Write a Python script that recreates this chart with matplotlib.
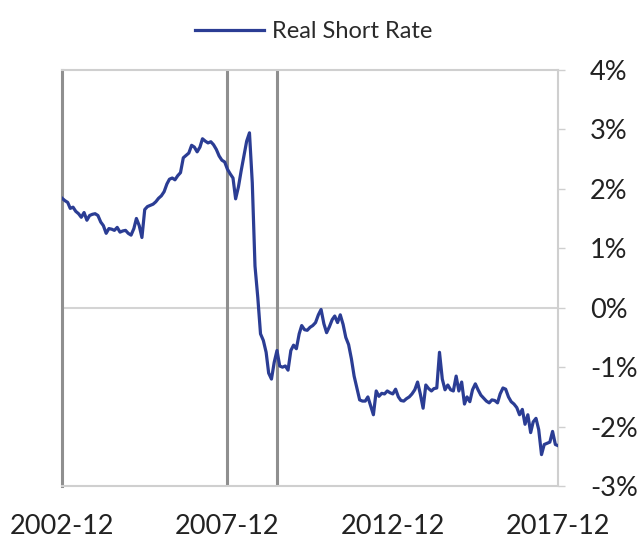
#!/usr/bin/env python
from matplotlib import pyplot as plt
import matplotlib.ticker as mticker
import pandas as pd
import numpy as np

plt.rcParams['font.family'] = ['Lato', 'DejaVu Sans']

# monthly real short rate (%), 2002-12 .. 2017-12
rate = [
	1.84, 1.80, 1.77, 1.67, 1.69, 1.62, 1.58, 1.52, 1.60, 1.47, 1.55, 1.57,
	1.58, 1.55, 1.44, 1.38, 1.25, 1.33, 1.32, 1.30, 1.35, 1.27, 1.29, 1.30,
	1.25, 1.22, 1.33, 1.50, 1.38, 1.18, 1.65, 1.70, 1.72, 1.74, 1.78, 1.84,
	1.88, 1.95, 2.08, 2.16, 2.18, 2.15, 2.22, 2.27, 2.52, 2.56, 2.60, 2.73,
	2.70, 2.62, 2.70, 2.84, 2.80, 2.77, 2.79, 2.74, 2.66, 2.55, 2.48, 2.45,
	2.33, 2.25, 2.18, 1.83, 2.03, 2.30, 2.55, 2.80, 2.94, 2.10, 0.70, 0.17,
	-0.44, -0.55, -0.75, -1.10, -1.20, -0.92, -0.72, -0.98, -1.00, -0.98, -1.05, -0.72,
	-0.63, -0.69, -0.44, -0.30, -0.37, -0.38, -0.33, -0.30, -0.25, -0.12, -0.03, -0.27,
	-0.42, -0.32, -0.20, -0.14, -0.25, -0.12, -0.28, -0.50, -0.62, -0.86, -1.15, -1.35,
	-1.55, -1.57, -1.57, -1.50, -1.65, -1.80, -1.40, -1.49, -1.44, -1.45, -1.40, -1.43,
	-1.45, -1.37, -1.50, -1.56, -1.57, -1.53, -1.50, -1.45, -1.38, -1.25, -1.45, -1.69,
	-1.30, -1.36, -1.40, -1.36, -1.35, -0.75, -1.20, -1.38, -1.30, -1.38, -1.40, -1.15,
	-1.40, -1.25, -1.62, -1.50, -1.58, -1.38, -1.28, -1.38, -1.47, -1.52, -1.57, -1.60,
	-1.55, -1.56, -1.60, -1.45, -1.35, -1.37, -1.50, -1.58, -1.62, -1.68, -1.80, -1.71,
	-1.96, -1.80, -2.10, -1.92, -1.86, -2.05, -2.47, -2.30, -2.28, -2.26, -2.08, -2.30,
	-2.32,
]
dates = pd.date_range('2002-12-01', periods=len(rate), freq='MS')
recession = ['2007-12-01', '2009-06-01']
xticks = ['2002-12-01', '2007-12-01', '2012-12-01', '2017-12-01']
xticklabels = ['2002-12', '2007-12', '2012-12', '2017-12']
yticks = [-3, -2, -1, 0, 1, 2, 3, 4]

fig = plt.figure(figsize=(6.4, 5.45), dpi=100)
ax = fig.add_axes([0.097, 0.108, 0.775, 0.764])

ax.axhline(0, color='#d4d4d4', lw=1.5, zorder=1)
for d in recession:
	ax.axvline(pd.Timestamp(d), color='#8f8f8f', lw=2.2, zorder=1)

ax.plot(dates, rate, color='#2b3d94', lw=2.3, label='Real Short Rate', zorder=3)

ax.set_xlim(dates[0], dates[-1])
ax.set_ylim(-3, 4)

for side in ['top', 'bottom', 'right']:
	ax.spines[side].set_color('#cfcfcf')
	ax.spines[side].set_linewidth(1.5)
ax.spines['left'].set_color('#8f8f8f')
ax.spines['left'].set_linewidth(2.2)

ax.yaxis.tick_right()
ax.set_yticks(yticks)
ax.yaxis.set_major_formatter(mticker.FuncFormatter(lambda v, p: '%d%%' % v))
ax.tick_params(axis='y', which='both', length=5, width=1, color='#cfcfcf',
			labelsize=19.5, labelcolor='#222222', pad=18)

ax.set_xticks([pd.Timestamp(t) for t in xticks])
ax.set_xticklabels(xticklabels)
ax.tick_params(axis='x', length=0, labelsize=19.5, labelcolor='#222222', pad=20)

fig.legend(loc='upper center', bbox_to_anchor=(0.49, 1.0), frameon=False,
		fontsize=17, handlelength=2.9, handletextpad=0.35, labelcolor='#2a2a2a')

plt.savefig('out.png', dpi=100)
